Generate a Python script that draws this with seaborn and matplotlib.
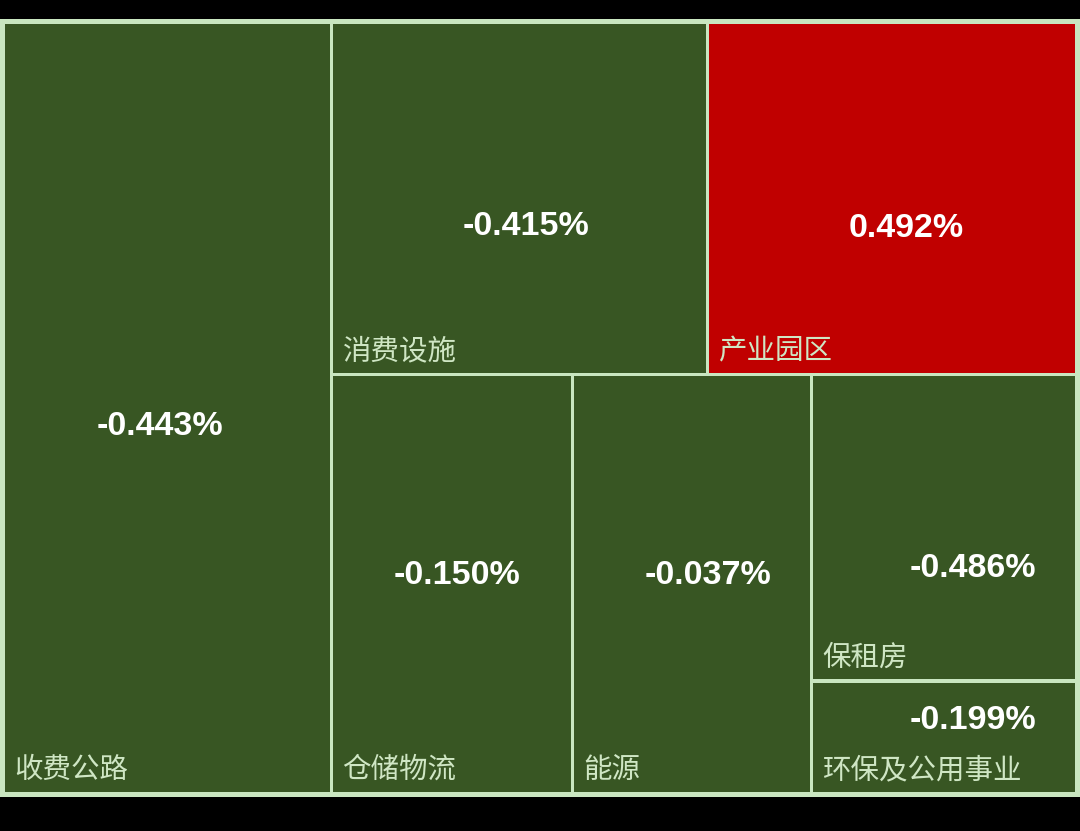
import matplotlib
matplotlib.use("Agg")
import matplotlib.pyplot as plt
from matplotlib.patches import Rectangle
import seaborn as sns

# treemap data: sector, relative size (area), daily change in %
categories = ["收费公路", "消费设施", "产业园区", "仓储物流", "能源", "保租房", "环保及公用事业"]
weights = [30.6, 16.0, 15.7, 12.2, 12.1, 9.8, 3.6]
changes = [-0.443, -0.415, 0.492, -0.150, -0.037, -0.486, -0.199]

# how the tiles are nested: 'h' = side by side, 'v' = stacked
layout = ("h", [0, ("v", [("h", [1, 2]), ("h", [3, 4, ("v", [5, 6])])])])

# where the value label sits inside each tile (fraction of width / height)
value_pos = [(0.475, 0.52), (0.516, 0.571), (0.538, 0.577), (0.519, 0.471),
             (0.568, 0.471), (0.61, 0.624), (0.61, 0.32)]

GREEN = "#385623"
RED = "#c00000"
BORDER = "#c9e6c0"
LABEL = "#cfe6c4"

sns.set_style("white")
plt.rcParams["font.family"] = ["Noto Sans CJK SC", "DejaVu Sans"]


def total(node):
    if isinstance(node, int):
        return weights[node]
    return sum(total(c) for c in node[1])


def place(node, x, y, w, h, out):
    if isinstance(node, int):
        out[node] = (x, y, w, h)
        return
    direction, kids = node
    s = total(node)
    for k in kids:
        f = total(k) / s
        if direction == "h":
            place(k, x, y, w * f, h, out)
            x += w * f
        else:
            place(k, x, y, w, h * f, out)
            y += h * f


W, H = 1080, 778
rects = {}
place(layout, 3.5, 3.5, W - 7, H - 7, rects)

fig = plt.figure(figsize=(10.8, 8.31), dpi=100, facecolor="black")
ax = fig.add_axes([0, 34 / 831, 1, H / 831])
ax.set_facecolor(BORDER)
ax.set_xlim(0, W)
ax.set_ylim(H, 0)
ax.set_xticks([])
ax.set_yticks([])
sns.despine(ax=ax, left=True, bottom=True)

gap = 1.6
for i, name in enumerate(categories):
    x, y, w, h = rects[i]
    x, y, w, h = x + gap, y + gap, w - 2 * gap, h - 2 * gap
    color = RED if changes[i] > 0 else GREEN
    ax.add_patch(Rectangle((x, y), w, h, facecolor=color, edgecolor="none"))
    fx, fy = value_pos[i]
    ax.text(x + w * fx, y + h * fy + 3, f"{changes[i]:.3f}%", color="white",
            fontsize=24.5, fontweight="bold", ha="center", va="center",
            family=["Liberation Sans", "DejaVu Sans"])
    ax.text(x + 9, y + h - 14, name, color=LABEL, fontsize=20.5,
            fontweight="medium", ha="left", va="baseline")

fig.savefig("out.png", dpi=100, facecolor="black")
